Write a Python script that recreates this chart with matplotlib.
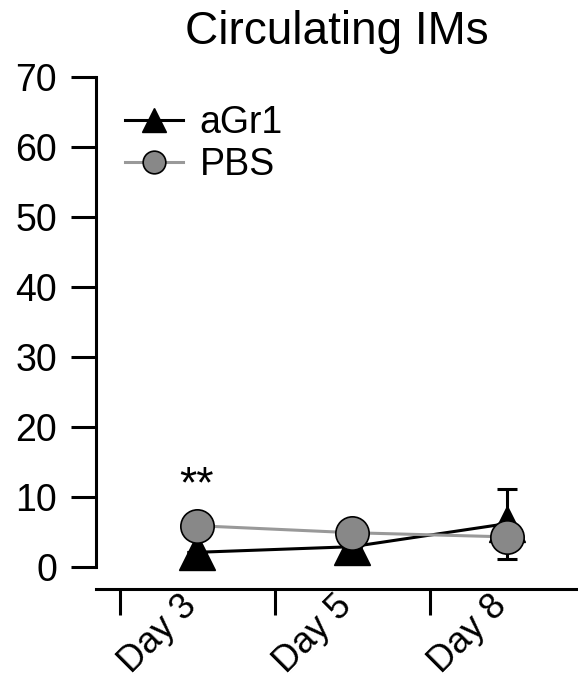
import numpy as np
import matplotlib.pyplot as plt
import matplotlib.transforms as mtrans

plt.rcParams['font.family'] = ['Liberation Sans', 'DejaVu Sans']

days = ["Day 3", "Day 5", "Day 8"]
agr1 = [2.1, 2.9, 6.2]
agr1_err = [0, 0, 5.0]
pbs = [5.9, 4.9, 4.3]
pbs_err = [0, 0, 0]

x = np.arange(len(days))

fig = plt.figure(figsize=(5.78, 6.88), dpi=100)
ax = fig.add_axes([0.166, 0.1433, 0.834, 0.7448])

# error bars first, then lines + markers on top
ax.errorbar(x, agr1, yerr=agr1_err, fmt='none', ecolor='black',
            elinewidth=2.2, capsize=7, capthick=2.2, zorder=1)
ax.plot(x, agr1, color='black', lw=2.2, marker='^', markersize=26,
        zorder=2, label='aGr1')
ax.errorbar(x, pbs, yerr=pbs_err, fmt='none', ecolor='#999999',
            elinewidth=2.2, capsize=7, zorder=2.5)
ax.plot(x, pbs, color='#999999', lw=2.2, marker='o', markersize=24,
        markerfacecolor='#888888', markeredgecolor='black',
        markeredgewidth=1.2, zorder=3, label='PBS')

ax.text(0, 11.6, "**", ha='center', va='center', fontsize=32)

ax.set_xlim(-0.652, 2.458)
ax.set_ylim(-3.2, 70)
ax.set_yticks(range(0, 71, 10))

ax.set_xticks([-0.5, 0.5, 1.5])
ax.set_xticklabels([])
ax.set_xticks(x, minor=True)
ax.set_xticklabels(days, minor=True, rotation=45, ha='right', va='center',
                   rotation_mode='anchor', fontsize=26)
ax.tick_params(axis='x', which='minor', length=0, pad=8)
ax.tick_params(axis='x', which='major', length=19, width=2.2)
ax.tick_params(axis='y', length=18, width=2.2, labelsize=27, pad=10)

# nudge the rotated day labels a little to the left
shift = mtrans.ScaledTranslation(-6 / 100, 0, fig.dpi_scale_trans)
for lab in ax.get_xticklabels(minor=True):
    lab.set_transform(lab.get_transform() + shift)

for s in ['top', 'right']:
    ax.spines[s].set_visible(False)
ax.spines['left'].set_bounds(0, 70)
ax.spines['left'].set_linewidth(2.2)
ax.spines['bottom'].set_linewidth(2.2)

ax.set_title("Circulating IMs", fontsize=33, pad=24)

ax.legend(loc='upper left', bbox_to_anchor=(0.06, 0.945), frameon=False,
          fontsize=27, markerscale=0.68, handlelength=1.55,
          handletextpad=0.45, labelspacing=0.15, borderpad=0,
          borderaxespad=0)

fig.savefig("out.png", dpi=100)
